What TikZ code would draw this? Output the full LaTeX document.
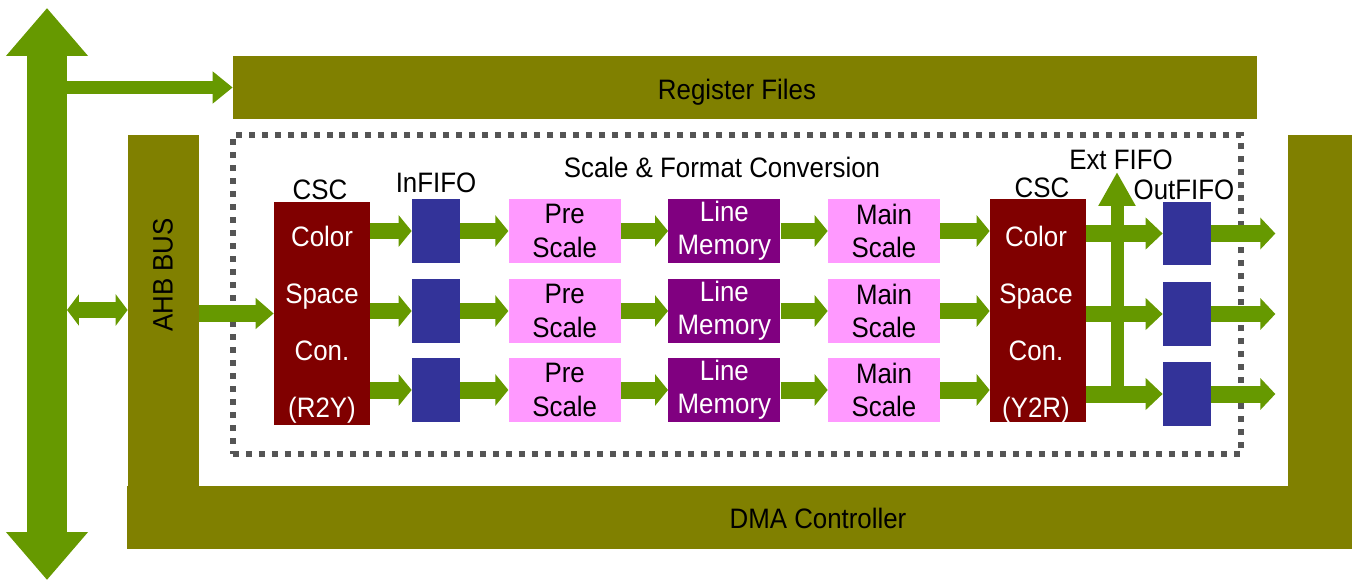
\documentclass[tikz,border=0pt]{standalone}
\usepackage{fontspec}
\setmainfont[FakeStretch=0.92]{Liberation Sans}
\usetikzlibrary{arrows.meta,positioning,fit}
\definecolor{busgreen}{HTML}{669900}
\definecolor{ctrlolive}{HTML}{808000}
\definecolor{fifoblue}{HTML}{333399}
\definecolor{cscred}{HTML}{800000}
\definecolor{memviolet}{HTML}{800080}
\definecolor{scalepink}{HTML}{FF99FF}
\definecolor{dotgrey}{HTML}{555555}

\begin{document}
\begin{tikzpicture}[x=0.02cm, y=-0.02cm,
  txt/.style={font=\fontsize{16}{19}\selectfont, inner sep=0pt, align=center},
  csctxt/.style={txt, text=white, font=\fontsize{16}{32.5}\selectfont},
  ctrl/.style={fill=ctrlolive, inner sep=0pt},
  fifo/.style={fill=fifoblue, minimum width=0.96cm, minimum height=1.28cm, inner sep=0pt},
  scl/.style={txt, fill=scalepink, minimum width=2.24cm, minimum height=1.28cm},
  lmem/.style={txt, fill=memviolet, text=white, minimum width=2.24cm, minimum height=1.28cm},
  cscbox/.style={fill=cscred, minimum width=1.92cm, minimum height=4.46cm, inner sep=0pt},
  pipe/.style={draw=busgreen, line width=0.34cm, -{Triangle[length=0.26cm, width=0.62cm]}},
  busline/.style={draw=busgreen, line width=0.8cm, {Triangle[length=0.96cm, width=1.58cm]}-{Triangle[length=0.96cm, width=1.58cm]}}
]
  \useasboundingbox (0,0) rectangle (1356,581);

  % control blocks
  \node[ctrl, fit={(233,56) (1257,119)}] (regf) {};
  \node[txt] (regftext) at (737,92) {Register Files};
  \node[ctrl, fit={(128,135) (199,486)}] (ahb) {};
  \node[txt, rotate=90] (ahbtext) at (163,275) {AHB BUS};
  \node[ctrl, fit={(127,486) (1352,549)}] (dma) {};
  \node[ctrl, fit={(1288,135) (1352,486)}] (dmaside) {};
  \node[txt] (dmatext) at (818,518) {DMA Controller};

  % scale & format conversion
  \node[fit={(233,135) (1241,454)}, inner sep=0pt, draw=dotgrey, line width=0.12cm,
        dash pattern=on 0.12cm off 0.14cm] (sfc) {};
  \node[txt] (sfctitle) at (722,167) {Scale \& Format Conversion};

  \node[cscbox] (csc1) at (322,313.5) {};
  \node[csctxt] (csc1text) at (322,325) {Color\\Space\\Con.\\(R2Y)};
  \node[txt] (csc1title) at (320,190) {CSC};

  \node[fifo] (inf1) at (436,231) {};
  \node[fifo] (inf2) at (436,311) {};
  \node[fifo] (inf3) at (436,390) {};
  \node[txt] (inftitle) at (436,183) {InFIFO};

  \foreach \r in {1,2,3} {
    \node[scl, right=0.96cm of inf\r] (pre\r) {Pre\\Scale};
    \node[lmem, right=0.94cm of pre\r] (lm\r) {Line\\Memory};
    \node[scl, right=0.94cm of lm\r] (ms\r) {Main\\Scale};
  }

  \node[cscbox] (csc2) at (1038,310.5) {};
  \node[csctxt] (csc2text) at (1036,325) {Color\\Space\\Con.\\(Y2R)};
  \node[txt] (csc2title) at (1042,188) {CSC};

  \node[fifo] (out1) at (1187,233.5) {};
  \node[fifo] (out2) at (1187,314) {};
  \node[fifo] (out3) at (1187,394) {};
  \node[txt] (outtitle) at (1184,190) {OutFIFO};
  \node[txt] (exttitle) at (1121,160) {Ext FIFO};

  % bus and links
  \coordinate (bustop) at (47,8);
  \coordinate (busbot) at (47,580);
  \coordinate (busedge) at (67,310);
  \coordinate (exttip) at (1117,172);
  \draw[busline] (bustop) -- (busbot);
  \draw[draw=busgreen, line width=0.26cm, -{Triangle[length=0.4cm, width=0.62cm]}]
    (regf.west -| bustop) -- (regf.west);
  \draw[draw=busgreen, line width=0.32cm, {Triangle[length=0.24cm, width=0.62cm]}-{Triangle[length=0.24cm, width=0.62cm]}]
    (busedge) -- (busedge -| ahb.west);
  \draw[pipe, -{Triangle[length=0.36cm, width=0.6cm]}] (csc1.west -| ahb.east) -- (csc1.west);

  \foreach \r in {1,2,3} {
    \draw[pipe] (inf\r.west -| csc1.east) -- (inf\r.west);
    \draw[pipe] (inf\r) -- (pre\r);
    \draw[pipe] (pre\r) -- (lm\r);
    \draw[pipe] (lm\r) -- (ms\r);
    \draw[pipe] (ms\r.east) -- (ms\r.east -| csc2.west);
    \draw[pipe, -{Triangle[length=0.34cm, width=0.62cm]}] (out\r.west -| csc2.east) -- (out\r.west);
    \draw[pipe, -{Triangle[length=0.3cm, width=0.62cm]}] (out\r.east) -- ++(64,0);
  }
  \draw[draw=busgreen, line width=0.26cm, -{Triangle[length=0.68cm, width=0.7cm]}]
    (out3.west -| exttip) -- (exttip);
\end{tikzpicture}
\end{document}
